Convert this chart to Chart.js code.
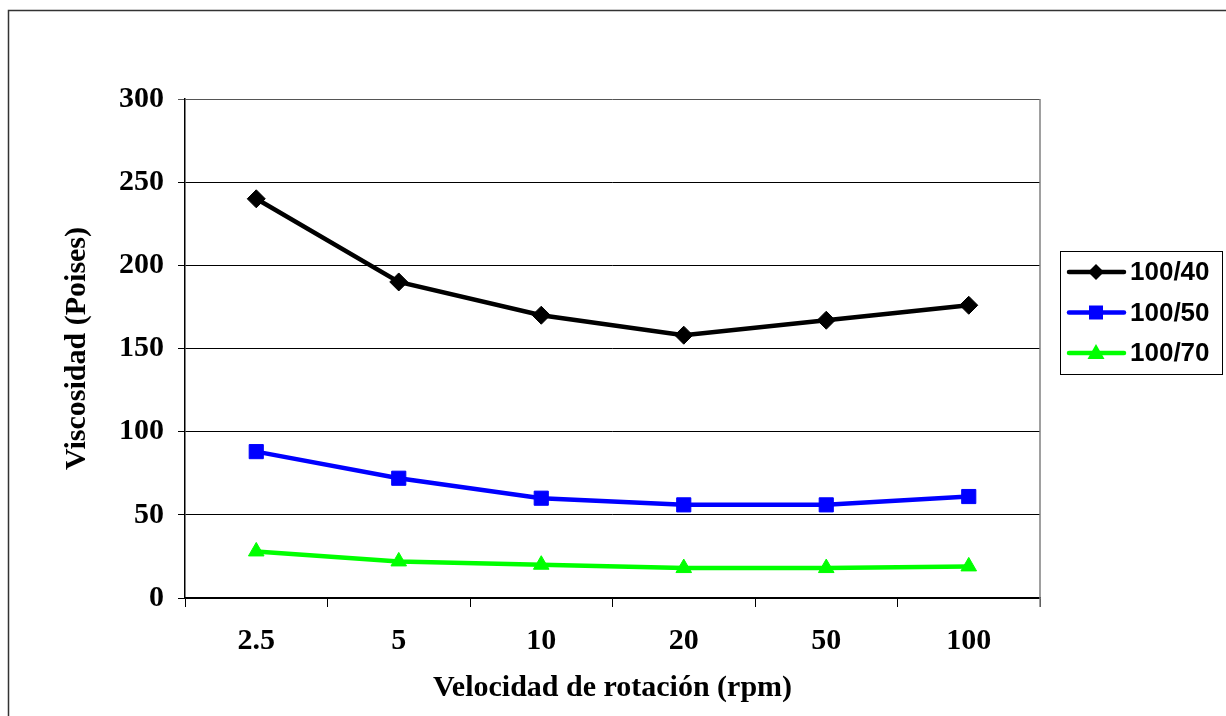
<!DOCTYPE html>
<html>
<head>
<meta charset="utf-8">
<script src="https://cdn.jsdelivr.net/npm/chart.js@4/dist/chart.umd.min.js"></script>
<style>
  html, body { margin: 0; padding: 0; background: #fff; }
  #wrap { width: 1226px; height: 716px; position: relative; }
</style>
</head>
<body>
<div id="wrap"><canvas id="chart" width="1226" height="716"></canvas></div>
<script>
const categories = ['2.5', '5', '10', '20', '50', '100']
const seriesNames = ['100/40', '100/50', '100/70']
const values40 = [240, 190, 170, 158, 167, 176]
const values50 = [88, 72, 60, 56, 56, 61]
const values70 = [28, 22, 20, 18, 18, 19]
const yTicks = [0, 50, 100, 150, 200, 250, 300]

const colors = ['#000000', '#0000ff', '#00ff00']
const markers = ['rectRot', 'rect', 'triangle']
const markerSizes = [9, 10, 9]

const serif = '"Liberation Serif", "Times New Roman", serif'
const sans = '"Liberation Sans", Arial, sans-serif'

function makeSet(i, data) {
  return {
    label: seriesNames[i],
    data,
    borderColor: colors[i],
    backgroundColor: colors[i],
    borderWidth: 4.5,
    pointStyle: markers[i],
    pointRadius: markerSizes[i],
    pointBorderWidth: 1,
    pointBorderColor: colors[i],
    tension: 0
  }
}

// outer frame + plot border + custom boxed legend
const framePlugin = {
  id: 'frame',
  beforeDraw(chart) {
    const ctx = chart.ctx
    ctx.save()
    ctx.fillStyle = '#fff'
    ctx.fillRect(0, 0, chart.width, chart.height)
    ctx.strokeStyle = '#333'
    ctx.lineWidth = 1.5
    ctx.strokeRect(8.5, 10.5, 1240, 740)
    ctx.restore()
  },
  afterDraw(chart) {
    const ctx = chart.ctx
    const a = chart.chartArea
    ctx.save()
    // right border of plot area
    ctx.strokeStyle = '#808080'
    ctx.lineWidth = 1.5
    ctx.beginPath()
    ctx.moveTo(a.right, a.top)
    ctx.lineTo(a.right, a.bottom + 9)
    ctx.stroke()

    // legend
    const lx = 1060, ly = 251, lw = 162, lh = 123
    ctx.strokeStyle = '#000'
    ctx.lineWidth = 1
    ctx.strokeRect(lx + 0.5, ly + 0.5, lw, lh)
    ctx.font = 'bold 26px ' + sans
    ctx.textBaseline = 'middle'
    ctx.textAlign = 'left'
    chart.data.datasets.forEach((ds, i) => {
      const y = ly + 21 + i * 40.5
      ctx.strokeStyle = ds.borderColor
      ctx.lineWidth = 4.5
      ctx.lineCap = 'round'
      ctx.beginPath()
      ctx.moveTo(1069, y)
      ctx.lineTo(1124, y)
      ctx.stroke()
      ctx.fillStyle = ds.borderColor
      const cx = 1096
      ctx.beginPath()
      if (ds.pointStyle === 'rectRot') {
        const r = 8
        ctx.moveTo(cx, y - r); ctx.lineTo(cx + r, y); ctx.lineTo(cx, y + r); ctx.lineTo(cx - r, y)
      } else if (ds.pointStyle === 'rect') {
        ctx.rect(cx - 7, y - 7, 14, 14)
      } else {
        ctx.moveTo(cx, y - 9); ctx.lineTo(cx + 8.5, y + 6); ctx.lineTo(cx - 8.5, y + 6)
      }
      ctx.closePath()
      ctx.fill()
      ctx.fillStyle = '#000'
      ctx.fillText(ds.label, 1130, y + 1)
    })
    ctx.restore()
  }
}

new Chart(document.getElementById('chart'), {
  type: 'line',
  data: {
    labels: categories,
    datasets: [makeSet(0, values40), makeSet(1, values50), makeSet(2, values70)]
  },
  options: {
    responsive: false,
    animation: false,
    layout: { padding: { left: 0, top: 99, right: 186, bottom: 0 } },
    plugins: { legend: { display: false }, tooltip: { enabled: false } },
    scales: {
      x: {
        offset: true,
        grid: { offset: true, drawOnChartArea: false, drawTicks: true, tickLength: 9, color: '#000', lineWidth: 1 },
        border: { color: '#000', width: 1.5 },
        ticks: { color: '#000', font: { family: serif, size: 30, weight: 'bold' }, padding: 16, maxRotation: 0 },
        title: { display: true, text: 'Velocidad de rotación (rpm)', color: '#000', font: { family: serif, size: 30, weight: 'bold' }, padding: { top: 0, bottom: 10 } },
        afterFit(s) { s.height = 118 }
      },
      y: {
        min: 0,
        max: 300,
        afterBuildTicks(s) { s.ticks = yTicks.map(v => ({ value: v })) },
        grid: {
          color: c => c.tick && c.tick.value === 300 ? '#555' : '#000',
          lineWidth: 1,
          drawTicks: true,
          tickLength: 7
        },
        border: { color: '#000', width: 1.5 },
        ticks: { color: '#000', font: { family: serif, size: 30, weight: 'bold' }, padding: 14 },
        title: { display: true, text: 'Viscosidad (Poises)', color: '#000', font: { family: serif, size: 30, weight: 'bold' }, padding: { top: 59, bottom: 0 } },
        afterFit(s) { s.width = 185 }
      }
    }
  },
  plugins: [framePlugin]
})
</script>
</body>
</html>
